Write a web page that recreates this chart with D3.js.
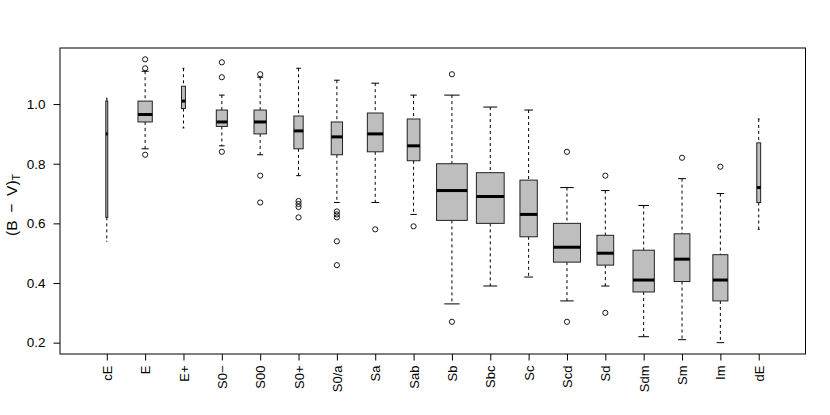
<!doctype html>
<html>
<head>
    <meta charset="utf-8"/>
    <style>
        html, body {
            margin: 0px;
            background: #fff;
        }
        svg {
            display: block;
            font-family: 'Liberation Sans', Arial, sans-serif;
        }
    </style>
    <script src="https://d3js.org/d3.v7.min.js"></script>
</head>
<body>

<svg id="chart" width="830" height="415"></svg>

<script>

    // Morphological types along the x axis
    var categories = ["cE", "E", "E+", "S0\u2212", "S00", "S0+", "S0/a", "Sa", "Sab",
        "Sb", "Sbc", "Sc", "Scd", "Sd", "Sdm", "Sm", "Im", "dE"];

    // Approximate sample sizes (box widths are proportional to sqrt(n))
    var counts = [2, 109, 8, 65, 81, 46, 68, 132, 86, 500, 410, 160, 389, 149, 242, 132, 120, 8];

    // Five-number summaries of (B - V)_T
    var lowerWhisker = [0.54, 0.85, 0.92, 0.86, 0.83, 0.76, 0.67, 0.67, 0.63, 0.33, 0.39, 0.42, 0.34, 0.39, 0.22, 0.21, 0.20, 0.58];
    var lowerHinge   = [0.62, 0.94, 0.985, 0.925, 0.90, 0.85, 0.83, 0.84, 0.81, 0.61, 0.60, 0.555, 0.47, 0.46, 0.37, 0.405, 0.34, 0.67];
    var medians      = [0.90, 0.965, 1.01, 0.94, 0.94, 0.91, 0.89, 0.90, 0.86, 0.71, 0.69, 0.63, 0.52, 0.50, 0.41, 0.48, 0.41, 0.72];
    var upperHinge   = [1.01, 1.01, 1.06, 0.98, 0.98, 0.96, 0.94, 0.97, 0.95, 0.80, 0.77, 0.745, 0.60, 0.56, 0.51, 0.565, 0.495, 0.87];
    var upperWhisker = [1.02, 1.11, 1.12, 1.03, 1.09, 1.12, 1.08, 1.07, 1.03, 1.03, 0.99, 0.98, 0.72, 0.71, 0.66, 0.75, 0.70, 0.95];

    var outliers = [
        [],
        [1.15, 1.12, 0.83],
        [],
        [1.14, 1.09, 0.84],
        [1.10, 0.76, 0.67],
        [0.675, 0.665, 0.655, 0.62],
        [0.64, 0.63, 0.62, 0.54, 0.46],
        [0.58],
        [0.59],
        [1.10, 0.27],
        [],
        [],
        [0.84, 0.27],
        [0.76, 0.30],
        [],
        [0.82],
        [0.79],
        []
    ];

    var yTicks = [0.2, 0.4, 0.6, 0.8, 1.0];

    var svg = d3.select("#chart");

    var plot = {left: 60, right: 805.5, top: 48, bottom: 354};

    // R-style axis ranges: data range padded by 4%
    var nCat = categories.length;
    var xPad = (nCat) * 0.04;
    var x = d3.scaleLinear()
        .domain([0.5 - xPad, nCat + 0.5 + xPad])
        .range([plot.left, plot.right]);

    var allVals = lowerWhisker.concat(upperWhisker, d3.merge(outliers));
    var yMin = d3.min(allVals), yMax = d3.max(allVals);
    var yPad = (yMax - yMin) * 0.04;
    var y = d3.scaleLinear()
        .domain([yMin - yPad, yMax + yPad])
        .range([plot.bottom, plot.top]);

    var maxSqrt = d3.max(counts, function(n) { return Math.sqrt(n); });
    function boxWidth(i) {
        return x(0.8 * Math.sqrt(counts[i]) / maxSqrt) - x(0);
    }

    // --- BOXES --- //
    var boxes = svg.append("g")
        .selectAll("g")
        .data(categories)
        .enter().append("g")
        .attr("transform", function(d, i) { return "translate(" + x(i + 1) + ",0)"; });

    // dashed whiskers
    boxes.append("line")
        .attr("x1", 0).attr("x2", 0)
        .attr("y1", function(d, i) { return y(upperWhisker[i]); })
        .attr("y2", function(d, i) { return y(upperHinge[i]); })
        .attr("stroke", "#000")
        .attr("stroke-dasharray", "3,3");
    boxes.append("line")
        .attr("x1", 0).attr("x2", 0)
        .attr("y1", function(d, i) { return y(lowerHinge[i]); })
        .attr("y2", function(d, i) { return y(lowerWhisker[i]); })
        .attr("stroke", "#000")
        .attr("stroke-dasharray", "3,3");

    // staples
    [upperWhisker, lowerWhisker].forEach(function(arr) {
        boxes.append("line")
            .attr("x1", function(d, i) { return -boxWidth(i) / 4; })
            .attr("x2", function(d, i) { return boxWidth(i) / 4; })
            .attr("y1", function(d, i) { return y(arr[i]); })
            .attr("y2", function(d, i) { return y(arr[i]); })
            .attr("stroke", "#000");
    });

    boxes.append("rect")
        .attr("x", function(d, i) { return -boxWidth(i) / 2; })
        .attr("width", function(d, i) { return boxWidth(i); })
        .attr("y", function(d, i) { return y(upperHinge[i]); })
        .attr("height", function(d, i) { return y(lowerHinge[i]) - y(upperHinge[i]); })
        .attr("fill", "#bebebe")
        .attr("stroke", "#222")
        .attr("stroke-width", 1);

    boxes.append("line")
        .attr("x1", function(d, i) { return -boxWidth(i) / 2; })
        .attr("x2", function(d, i) { return boxWidth(i) / 2; })
        .attr("y1", function(d, i) { return y(medians[i]); })
        .attr("y2", function(d, i) { return y(medians[i]); })
        .attr("stroke", "#000")
        .attr("stroke-width", 3);

    boxes.selectAll("circle")
        .data(function(d, i) { return outliers[i]; })
        .enter().append("circle")
        .attr("cx", 0)
        .attr("cy", function(v) { return y(v); })
        .attr("r", 2.6)
        .attr("fill", "none")
        .attr("stroke", "#000")
        .attr("stroke-width", 0.9);

    // --- FRAME --- //
    svg.append("rect")
        .attr("x", plot.left)
        .attr("y", plot.top)
        .attr("width", plot.right - plot.left)
        .attr("height", plot.bottom - plot.top)
        .attr("fill", "none")
        .attr("stroke", "#000")
        .attr("stroke-width", 1);

    // --- AXES --- //
    var yAxis = d3.axisLeft(y)
        .tickValues(yTicks)
        .tickSize(6.5)
        .tickPadding(8)
        .tickFormat(d3.format(".1f"));
    var gy = svg.append("g")
        .attr("transform", "translate(" + plot.left + ",0)")
        .call(yAxis);
    gy.select(".domain").remove();
    gy.selectAll("text")
        .attr("font-size", 13.5)
        .attr("font-family", "'Liberation Sans', Arial, sans-serif")
        .attr("fill", "#000");

    var xAxis = d3.axisBottom(x)
        .tickValues(d3.range(1, nCat + 1))
        .tickSize(6.5)
        .tickFormat(function(d) { return categories[d - 1]; });
    var gx = svg.append("g")
        .attr("transform", "translate(0," + plot.bottom + ")")
        .call(xAxis);
    gx.select(".domain").remove();
    gx.selectAll("text")
        .attr("font-size", 13)
        .attr("font-family", "'Liberation Sans', Arial, sans-serif")
        .attr("fill", "#000")
        .attr("text-anchor", "end")
        .attr("dy", null)
        .attr("y", null)
        .attr("transform", "translate(4.6,11.5) rotate(-90)");

    // y title: (B - V)_T
    var title = svg.append("text")
        .attr("transform", "translate(17.2,205) rotate(-90)")
        .attr("text-anchor", "middle")
        .attr("font-size", 15.5)
        .attr("fill", "#000");
    title.append("tspan").text("(B\u2002\u2212\u2002V)");
    title.append("tspan")
        .attr("font-size", 10.5)
        .attr("baseline-shift", "-30%")
        .text("T");

</script>

</body>
</html>
